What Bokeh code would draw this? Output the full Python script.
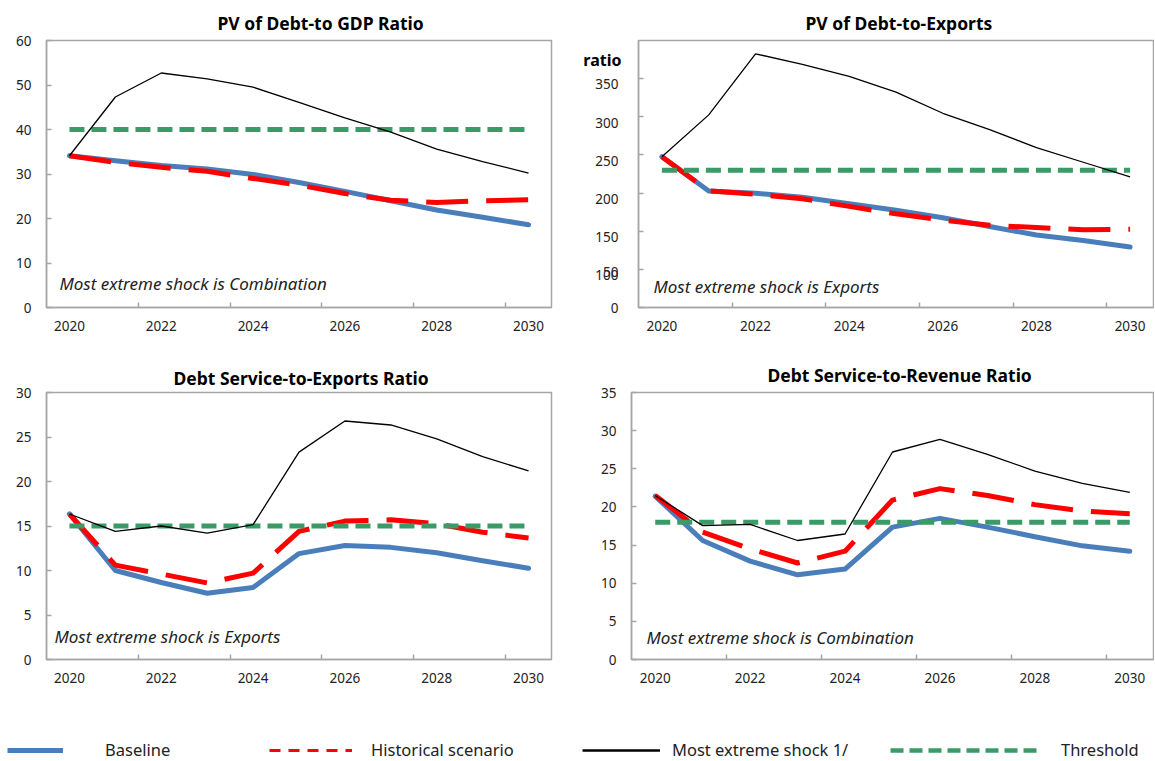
from bokeh.plotting import figure
from bokeh.models import FixedTicker, Range1d, Label, Legend, LegendItem, LinearAxis
from bokeh.layouts import column, row
from bokeh.embed import file_html
from bokeh.resources import INLINE

# ---------------- data ----------------
years = [2020, 2021, 2022, 2023, 2024, 2025, 2026, 2027, 2028, 2029, 2030]
year_labels = [2020, 2022, 2024, 2026, 2028, 2030]

# PV of Debt-to GDP Ratio
gdp_baseline = [34.1, 33.0, 31.9, 31.1, 29.9, 28.1, 26.1, 24.0, 21.9, 20.3, 18.6]
gdp_historical = [34.1, 32.6, 31.5, 30.6, 29.0, 27.5, 25.6, 24.1, 23.6, 24.0, 24.2]
gdp_shock = [34.1, 47.3, 52.7, 51.4, 49.5, 46.1, 42.6, 39.4, 35.6, 32.8, 30.2]
gdp_threshold = [40, 40, 40, 40, 40, 40, 40, 40, 40, 40, 40]

# PV of Debt-to-Exports
exp_baseline = [197.7, 152.8, 149.8, 144.6, 136.0, 127.5, 117.7, 106.1, 95.0, 87.7, 79.2]
exp_historical = [197.7, 152.8, 148.5, 142.5, 132.6, 122.8, 114.7, 107.8, 104.8, 101.8, 102.7]
exp_shock = [197.7, 252.5, 332.5, 318.8, 303.0, 282.4, 254.6, 233.2, 209.7, 190.4, 171.2]
exp_threshold = [180, 180, 180, 180, 180, 180, 180, 180, 180, 180, 180]
exp_tick_values = [0, 50, 100, 150, 200, 250, 300]
exp_tick_labels = ["0", "100", "150", "200", "250", "300", "350"]
exp_extra_label = "50"
exp_unit_label = "ratio"

# Debt Service-to-Exports Ratio
dsx_baseline = [16.35, 10.0, 8.65, 7.45, 8.1, 11.9, 12.8, 12.6, 12.0, 11.1, 10.25]
dsx_historical = [16.35, 10.6, 9.6, 8.6, 9.7, 14.4, 15.55, 15.7, 15.25, 14.3, 13.65]
dsx_shock = [16.35, 14.4, 15.0, 14.2, 15.15, 23.3, 26.8, 26.35, 24.8, 22.8, 21.2]
dsx_threshold = [15, 15, 15, 15, 15, 15, 15, 15, 15, 15, 15]

# Debt Service-to-Revenue Ratio
dsr_baseline = [21.4, 15.6, 12.9, 11.1, 11.85, 17.35, 18.5, 17.35, 16.1, 14.9, 14.2]
dsr_historical = [21.5, 16.7, 14.5, 12.65, 14.2, 20.9, 22.4, 21.5, 20.3, 19.45, 19.1]
dsr_shock = [21.5, 17.55, 17.7, 15.6, 16.45, 27.2, 28.85, 26.9, 24.7, 23.1, 21.9]
dsr_threshold = [18, 18, 18, 18, 18, 18, 18, 18, 18, 18, 18]

series_names = ["Baseline", "Historical scenario", "Most extreme shock 1/", "Threshold"]

# ---------------- styles ----------------
FONT = "Noto Sans"
BLUE = "#4A7EBB"
RED = "#FF0000"
GREEN = "#3A9A68"
GRAY = "#A6A6A6"
TXT = "#222222"


def make_panel(title, base, hist, shock, thr, y_end, y_step, width, height,
               mbl, mbr, mbt, mbb, title_x, title_standoff, title_valign,
               note, note_dx, note_dy, ystandoff=15):
    p = figure(width=width, height=height, toolbar_location=None,
               output_backend="svg",
               x_range=Range1d(years[0] - 0.5, years[-1] + 0.5),
               y_range=Range1d(0, y_end),
               min_border_left=mbl, min_border_right=mbr,
               min_border_top=mbt, min_border_bottom=mbb)
    p.title.text = title
    p.title.align = "left"
    p.title.offset = title_x
    p.title.vertical_align = title_valign
    p.title.text_font = FONT
    p.title.text_font_size = "17.5px"
    p.title.text_font_style = "bold"
    p.title.text_color = "#000000"
    p.title.standoff = title_standoff

    p.grid.visible = False
    p.outline_line_color = GRAY
    p.outline_line_width = 1.5
    p.background_fill_color = "white"
    p.border_fill_color = "white"

    xa = p.xaxis[0]
    xa.ticker = FixedTicker(ticks=year_labels,
                            minor_ticks=[2021.5, 2023.5, 2025.5, 2027.5, 2029.5])
    xa.major_tick_in = 0
    xa.major_tick_out = 0
    xa.minor_tick_in = 5
    xa.minor_tick_out = 0
    xa.minor_tick_line_color = GRAY
    xa.minor_tick_line_width = 1.5
    xa.axis_line_color = GRAY
    xa.axis_line_width = 1.5
    xa.major_label_text_font = FONT
    xa.major_label_text_font_size = "13.5px"
    xa.major_label_text_color = TXT
    xa.major_label_standoff = 13

    ya = p.yaxis[0]
    ya.ticker = FixedTicker(ticks=list(range(0, y_end + 1, y_step)))
    ya.major_tick_in = 5
    ya.major_tick_out = 0
    ya.major_tick_line_color = GRAY
    ya.major_tick_line_width = 1.5
    ya.minor_tick_in = 5
    ya.minor_tick_out = 0
    ya.minor_tick_line_color = GRAY
    ya.minor_tick_line_width = 1.5
    ya.axis_line_color = GRAY
    ya.axis_line_width = 1.5
    ya.major_label_text_font = FONT
    ya.major_label_text_font_size = "13.5px"
    ya.major_label_text_color = TXT
    ya.major_label_standoff = ystandoff

    p.line(years, base, line_color=BLUE, line_width=5, line_join="round",
           line_cap="round")
    p.line(years, hist, line_color=RED, line_width=5, line_dash="42 18",
           line_join="round")
    p.line(years, thr, line_color=GREEN, line_width=5, line_dash="15 7")
    p.line(years, shock, line_color="#000000", line_width=1.3)

    p.add_layout(Label(x=years[0] - 0.5, y=0, x_offset=note_dx, y_offset=note_dy,
                       text=note, text_font=FONT, text_font_size="17px",
                       text_font_style="italic", text_color=TXT,
                       text_baseline="middle"))
    return p


p1 = make_panel("PV of Debt-to GDP Ratio", gdp_baseline, gdp_historical,
                gdp_shock, gdp_threshold, 60, 10, 575, 350,
                46, 24, 40, 43, 171, 8, "top",
                "Most extreme shock is Combination", 13, 24)

p2 = make_panel("PV of Debt-to-Exports", exp_baseline, exp_historical,
                exp_shock, exp_threshold, 350, 50, 579, 350,
                63, 1, 37, 41, 167, 8, "top",
                "Most extreme shock is Exports", 15, 21, ystandoff=20)
# the labels of this axis sit a little below their tick marks, as in the original
label_shift = 7.5
extra_shift = 3.5
label_pos = [exp_tick_values[0]] + [v - label_shift for v in exp_tick_values[1:]]
extra_pos = exp_tick_values[1] - extra_shift
overrides = {pos: s for pos, s in zip(label_pos, exp_tick_labels)}
overrides[extra_pos] = exp_extra_label
p2.yaxis[0].ticker = FixedTicker(ticks=label_pos + [extra_pos],
                                 minor_ticks=exp_tick_values)
p2.yaxis[0].major_tick_in = 0
p2.yaxis[0].major_label_overrides = overrides

unit_pos = 325
unit_axis = LinearAxis(ticker=FixedTicker(ticks=[unit_pos]),
                       major_label_overrides={unit_pos: exp_unit_label},
                       axis_line_color=None, major_tick_line_color=None,
                       minor_tick_line_color=None,
                       major_tick_in=0, major_tick_out=0,
                       minor_tick_in=0, minor_tick_out=0,
                       major_label_standoff=-29,
                       major_label_text_font=FONT,
                       major_label_text_font_size="16px",
                       major_label_text_font_style="bold",
                       major_label_text_color="#000000")
p2.add_layout(unit_axis, "left")

p3 = make_panel("Debt Service-to-Exports  Ratio", dsx_baseline, dsx_historical,
                dsx_shock, dsx_threshold, 30, 5, 575, 360,
                46, 24, 41, 50, 127, 5, "bottom",
                "Most extreme shock is Exports", 8, 23)

p4 = make_panel("Debt Service-to-Revenue  Ratio", dsr_baseline, dsr_historical,
                dsr_shock, dsr_threshold, 35, 5, 579, 360,
                56, 1, 42, 51, 136, 8, "top",
                "Most extreme shock is Combination", 15, 22)

# ---------------- legend ----------------
lf = figure(width=1154, height=51, toolbar_location=None, output_backend="svg",
            x_range=Range1d(0, 1), y_range=Range1d(0, 1),
            x_axis_type=None, y_axis_type=None, min_border=0)
lf.outline_line_color = None
nan = float("nan")
r_base = lf.line(x=[nan], y=[nan], line_color=BLUE, line_width=5)
r_hist = lf.line(x=[nan], y=[nan], line_color=RED, line_width=3, line_dash="11 8")
r_shock = lf.line(x=[nan], y=[nan], line_color="#000000", line_width=2.5)
r_thr = lf.line(x=[nan], y=[nan], line_color=GREEN, line_width=4.5, line_dash="13 6")

legend_specs = [
    (series_names[0], r_base, 7, 56, 42),
    (series_names[1], r_hist, 269, 83, 19),
    (series_names[2], r_shock, 582, 78, 12),
    (series_names[3], r_thr, 890, 149, 22),
]
for name, rend, lx, gw, st in legend_specs:
    leg = Legend(items=[LegendItem(label=name, renderers=[rend])],
                 location=(lx, 0), orientation="horizontal",
                 glyph_width=gw, glyph_height=16, label_standoff=st,
                 padding=0, margin=0, spacing=0,
                 border_line_color=None, background_fill_alpha=0,
                 label_text_font=FONT, label_text_font_size="16.5px",
                 label_text_color=TXT, label_height=16)
    lf.add_layout(leg)

layout = column(row(p1, p2), row(p3, p4), lf)

open("out.html", "w").write(file_html(layout, INLINE))
